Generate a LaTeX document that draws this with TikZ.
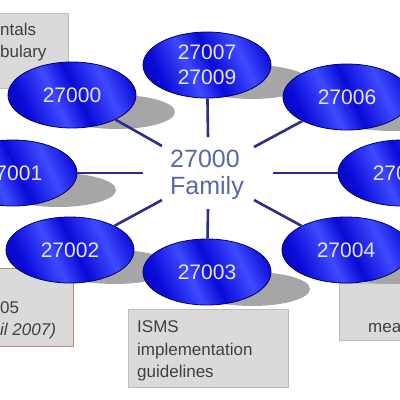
\documentclass[tikz,border=0pt]{standalone}
\usepackage{fontspec}
\setmainfont{Liberation Sans}
\usetikzlibrary{shapes.geometric}
\definecolor{navy}{HTML}{00006A}
\definecolor{midblue}{HTML}{0A0AD8}
\definecolor{hiblue}{HTML}{3E4AFF}
\definecolor{linecol}{HTML}{2E2E8A}
\definecolor{famcol}{HTML}{5868A8}
\definecolor{shadowgray}{HTML}{A6A6A6}
\definecolor{boxgray}{HTML}{DADADA}
\definecolor{boxedge}{HTML}{BDBDBD}
\definecolor{redge}{HTML}{C08878}
\definecolor{numwhite}{HTML}{E6E6FF}
\definecolor{boxtextcol}{HTML}{404040}
\pgfdeclarehorizontalshading{ellshade}{100bp}{color(0bp)=(navy); color(28bp)=(midblue); color(42bp)=(hiblue); color(52bp)=(midblue); color(66bp)=(hiblue); color(78bp)=(midblue); color(100bp)=(navy)}
\tikzset{
  ell/.style={ellipse, minimum width=128bp, minimum height=66bp, inner sep=0pt,
    draw=navy, line width=0.8bp, shading=ellshade, shading angle=25,
    text=numwhite, font=\fontsize{21bp}{25bp}\selectfont, align=center},
  shad/.style={ellipse, fill=shadowgray, minimum width=116bp, minimum height=34bp, inner sep=0pt},
  graybox/.style={fill=boxgray, draw=boxedge, line width=0.8bp},
  redbox/.style={fill=boxgray, draw=redge, line width=1bp},
  boxtext/.style={text=boxtextcol, inner sep=0pt, font=\fontsize{17bp}{22bp}\selectfont},
  famtext/.style={text=famcol, inner sep=0pt, font=\fontsize{25bp}{27bp}\selectfont},
  conn/.style={draw=linecol, line width=2.6bp},
}
\begin{document}
\begin{tikzpicture}[x=1bp, y=-1bp]
\useasboundingbox (0,0) rectangle (400,400);
\clip (0,0) rectangle (400,400);
\fill[white] (0,0) rectangle (400,400);
% boxes
\path[graybox] (-5,13) rectangle (68,88);
\path[redbox] (-5,268) rectangle (73,346);
\path[graybox] (128,309) rectangle (288,387);
\path[graybox] (339,283) rectangle (405,340);
% box texts
\node[boxtext, anchor=base west] (t1a) at (0,35) {ntals};
\node[boxtext, anchor=base west] (t1b) at (0,57) {bulary};
\node[boxtext, anchor=base west] (t2a) at (0,313) {05};
\node[boxtext, anchor=base west] (t2b) at (0,335) {\itshape il 2007)};
\node[boxtext, anchor=base west] (t3a) at (137,332) {ISMS};
\node[boxtext, anchor=base west] (t3b) at (137,355) {implementation};
\node[boxtext, anchor=base west] (t3c) at (137,377) {guidelines};
\node[boxtext, anchor=base west] (t4a) at (368,332) {mea};
% shadows
\node[shad] (s7) at (252,82) {};
\node[shad] (s0) at (117,112) {};
\node[shad] (s6) at (392,114) {};
\node[shad] (s1) at (58,190) {};
\node[shad] (s5) at (447,190) {};
\node[shad] (s2) at (115,267) {};
\node[shad] (s3) at (252,289) {};
\node[shad] (s4) at (391,267) {};
% ellipses
\node[ell] (e7) at (207,65) {27007\\27009};
\node[ell] (e0) at (72,95) {27000};
\node[ell] (e6) at (347,97) {27006};
\node[ell] (e1) at (13,173) {27001};
\node[ell] (e5) at (402,173) {27005};
\node[ell] (e2) at (70,250) {27002};
\node[ell] (e3) at (207,272) {27003};
\node[ell] (e4) at (346,250) {27004};
% centre text
\node[famtext, anchor=base] (fam1) at (205,167) {27000};
\node[famtext, anchor=base] (fam2) at (207,194) {Family};
% connector inner ends
\coordinate (i7) at (208,137);
\coordinate (i0) at (162,146);
\coordinate (i6) at (254,147);
\coordinate (i1) at (143,173);
\coordinate (i5) at (273,173);
\coordinate (i2) at (162,200);
\coordinate (i4) at (254,200);
\coordinate (i3) at (208,209);
\draw[conn] (i7) -- (e7);
\draw[conn] (i0) -- (e0);
\draw[conn] (i6) -- (e6);
\draw[conn] (i1) -- (e1);
\draw[conn] (i5) -- (e5);
\draw[conn] (i2) -- (e2);
\draw[conn] (i4) -- (e4);
\draw[conn] (i3) -- (e3);
\end{tikzpicture}
\end{document}
